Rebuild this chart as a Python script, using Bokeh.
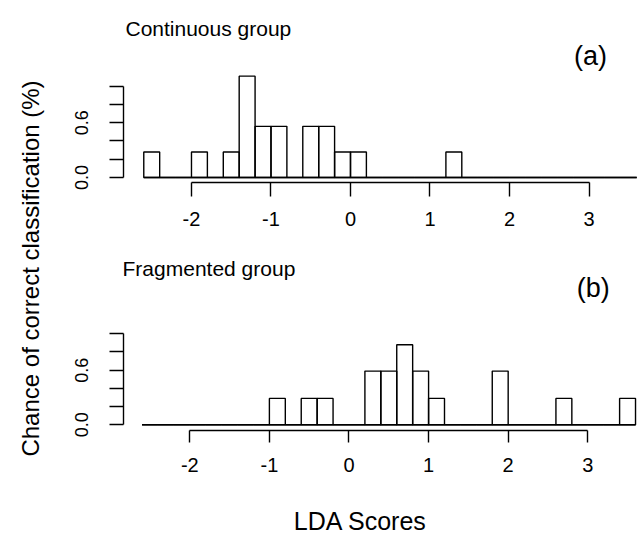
import math
import numpy as np
from bokeh.plotting import figure
from bokeh.layouts import row, column
from bokeh.models import Range1d, FixedTicker, CustomJSTickFormatter, Label, ColumnDataSource
from bokeh.embed import file_html
from bokeh.resources import INLINE

# ---- data ----
bin_width = 0.2
breaks = np.round(np.arange(-2.6, 3.6 + 1e-9, bin_width), 1)   # 31 bins, -2.6 .. 3.6
# density of each bin, continuous group (a)
cont_density = [0.28, 0, 0, 0.28, 0, 0.28, 1.11, 0.56, 0.56, 0, 0.56, 0.56, 0.28, 0.28, 0, 0,
                0, 0, 0, 0.28, 0, 0, 0, 0, 0, 0, 0, 0, 0, 0, 0]
# density of each bin, fragmented group (b)
frag_density = [0, 0, 0, 0, 0, 0, 0, 0, 0.29, 0, 0.29, 0.29, 0, 0, 0.59, 0.59,
                0.88, 0.59, 0.29, 0, 0, 0, 0.59, 0, 0, 0, 0.29, 0, 0, 0, 0.29]
x_ticks = [-2, -1, 0, 1, 2, 3]
y_ticks = [0, 0.2, 0.4, 0.6, 0.8, 1.0]
y_title = "Chance of correct classification (%)"
x_title = "LDA Scores"
panel_titles = ["Continuous group", "Fragmented group"]
panel_tags = ["(a)", "(b)"]

FONT = "Liberation Sans"
LW = 1.4

xfmt = "return tick.toFixed(0);"
yfmt = "return (Math.abs(tick) < 1e-9 || Math.abs(tick - 0.6) < 1e-9) ? tick.toFixed(1) : '';"


def blank(width, height, xr, yr):
    f = figure(width=width, height=height, x_range=Range1d(*xr), y_range=Range1d(*yr),
               output_backend="svg", toolbar_location=None, x_axis_type=None, y_axis_type=None,
               min_border_left=0, min_border_right=0, min_border_top=0, min_border_bottom=0)
    f.outline_line_color = None
    f.xgrid.visible = False
    f.ygrid.visible = False
    return f


def style_axes(p, tick_out_x):
    for ax in p.xaxis:
        ax.ticker = FixedTicker(ticks=x_ticks, minor_ticks=[])
        ax.formatter = CustomJSTickFormatter(code=xfmt)
        ax.bounds = (x_ticks[0], x_ticks[-1])
        ax.major_tick_in = 0
        ax.major_tick_out = tick_out_x
        ax.minor_tick_line_color = None
        ax.axis_line_width = LW
        ax.major_tick_line_width = LW
        ax.axis_line_color = "black"
        ax.major_tick_line_color = "black"
        ax.major_label_text_font = FONT
        ax.major_label_text_font_size = "20px"
        ax.major_label_text_color = "black"
        ax.major_label_standoff = 15
    for ax in p.yaxis:
        ax.ticker = FixedTicker(ticks=y_ticks, minor_ticks=[])
        ax.formatter = CustomJSTickFormatter(code=yfmt)
        ax.bounds = (y_ticks[0], y_ticks[-1])
        ax.major_tick_in = 0
        ax.major_tick_out = 14
        ax.minor_tick_line_color = None
        ax.axis_line_width = LW
        ax.major_tick_line_width = LW
        ax.axis_line_color = "black"
        ax.major_tick_line_color = "black"
        ax.major_label_text_font = FONT
        ax.major_label_text_font_size = "18px"
        ax.major_label_text_color = "black"
        ax.major_label_orientation = "vertical"
        ax.major_label_standoff = 21
    p.xgrid.visible = False
    p.ygrid.visible = False
    p.outline_line_color = None


def panel(density, xr, yr, height, border_bottom, title, tag, title_xy, tag_xy, tick_out_x):
    p = figure(width=589, height=height, x_range=Range1d(*xr), y_range=Range1d(*yr),
               output_backend="svg", toolbar_location=None,
               min_border_left=73, min_border_right=0, min_border_top=0,
               min_border_bottom=border_bottom)
    src = ColumnDataSource(dict(left=breaks[:-1], right=breaks[1:], top=density))
    p.quad(left="left", right="right", bottom=0, top="top", source=src,
           fill_color=None, line_color="black", line_width=LW)
    p.segment(x0=[breaks[0]], x1=[breaks[-1]], y0=[0], y1=[0], line_color="black", line_width=LW)
    p.add_layout(Label(x=title_xy[0], y=title_xy[1], text=title, text_font=FONT,
                       text_font_size="21px", text_color="black", text_baseline="middle"))
    p.add_layout(Label(x=tag_xy[0], y=tag_xy[1], text=tag, text_font=FONT,
                       text_font_size="27px", text_color="black", text_align="center",
                       text_baseline="middle"))
    style_axes(p, tick_out_x)
    return p


top = panel(cont_density, (-2.855, 3.635), (-0.0548, 1.9387), 245, 63,
            panel_titles[0], panel_tags[0], (-2.83, 1.629), (3.02, 1.33), 14)
bot = panel(frag_density, (-2.833, 3.650), (-0.0626, 1.970), 240, 55,
            panel_titles[1], panel_tags[1], (-2.845, 1.718), (3.07, 1.503), 12)

# strip left of the panels holding the y title (page y 0..485)
left = blank(50, 485, (0, 50), (0, 485))
left.add_layout(Label(x=30, y=217, text=y_title, angle=math.pi / 2, text_font=FONT,
                      text_font_size="24px", text_color="black", text_align="center",
                      text_baseline="middle"))

# full-width strip at the bottom holding the x title (page y 485..536)
xlab = blank(639, 51, (0, 639), (0, 51))
xlab.add_layout(Label(x=360, y=16, text=x_title, text_font=FONT, text_font_size="25px",
                      text_color="black", text_align="center", text_baseline="middle"))

layout = column(row(left, column(top, bot)), xlab)
open("out.html", "w").write(file_html(layout, INLINE))
